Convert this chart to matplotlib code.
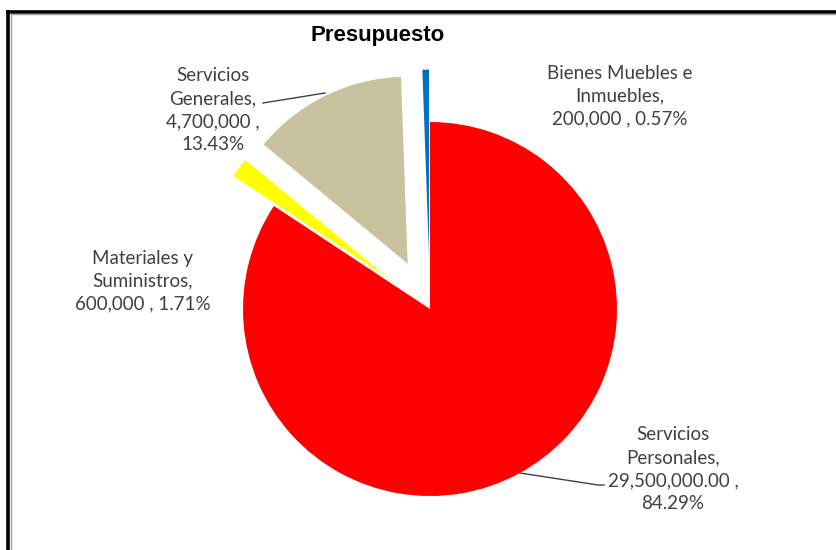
import matplotlib
matplotlib.use("Agg")
import matplotlib.pyplot as plt
from matplotlib.lines import Line2D

# data
categorias = ["Servicios Personales", "Materiales y Suministros",
              "Servicios Generales", "Bienes Muebles e Inmuebles"]
montos = [29500000, 600000, 4700000, 200000]
etiquetas = ["Servicios\nPersonales,\n29,500,000.00 ,\n84.29%",
             "Materiales y\nSuministros,\n600,000 , 1.71%",
             "Servicios\nGenerales,\n4,700,000 ,\n13.43%",
             "Bienes Muebles e\nInmuebles,\n200,000 , 0.57%"]
colores = ["#FF0000", "#FFFF00", "#C8C29F", "#0070C0"]
explode = [0, 0.27, 0.27, 0.28]

W, H = 837, 550
cx, cy, R = 430, 309, 187


def px(x, y):
    # pixel position -> data coords (radius = 1)
    return (x - cx) / R, (cy - y) / R


fig = plt.figure(figsize=(W / 100, H / 100), dpi=100)
ax = fig.add_axes([0, 0, 1, 1])
ax.pie(montos, colors=colores, explode=explode, startangle=90,
       counterclock=False, radius=1, wedgeprops=dict(linewidth=0))
ax.set_xlim(-cx / R, (W - cx) / R)
ax.set_ylim(-(H - cy) / R, cy / R)
ax.set_aspect("auto")
ax.axis("off")

pos = [(673, 469), (143, 281), (213, 110), (620, 96)]
for txt, (x, y) in zip(etiquetas, pos):
    tx, ty = px(x, y)
    ax.text(tx, ty, txt, ha="center", va="center", fontsize=13.5,
            family="Lato", color="#404040", linespacing=1.42)

# leader lines
for pts in [[(520, 473), (598, 485), (604, 485)],
            [(263, 103), (325, 93)]]:
    xs = [px(*p)[0] for p in pts]
    ys = [px(*p)[1] for p in pts]
    ax.plot(xs, ys, color="#404040", lw=1)

fig.text(378 / W, 1 - 35 / H, "Presupuesto", ha="center", va="center",
         fontsize=16, fontweight="bold", family="Liberation Sans")

# frame of the chart area
fig.add_artist(Line2D([8.5 / W, 1.01], [1 - 11.5 / H, 1 - 11.5 / H], color="black", lw=2.6))
fig.add_artist(Line2D([8.5 / W, 8.5 / W], [-0.01, 1 - 11.5 / H], color="black", lw=2.6))
fig.add_artist(Line2D([11.5 / W, 1.01], [1 - 14 / H, 1 - 14 / H], color="#A0A0A0", lw=1))
fig.add_artist(Line2D([11.5 / W, 11.5 / W], [-0.01, 1 - 14 / H], color="#A0A0A0", lw=1))

fig.savefig("out.png", dpi=100)
